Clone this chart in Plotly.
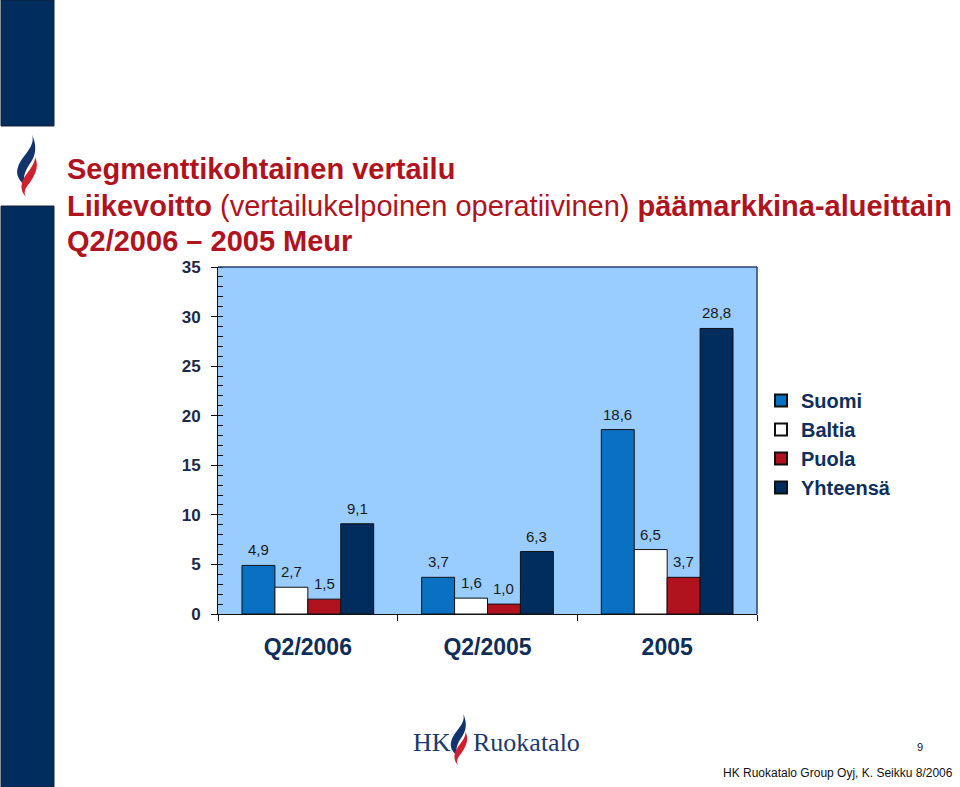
import plotly.graph_objects as go

categories = ["Q2/2006", "Q2/2005", "2005"]
suomi = [4.9, 3.7, 18.6]
baltia = [2.7, 1.6, 6.5]
puola = [1.5, 1.0, 3.7]
yhteensa = [9.1, 6.3, 28.8]
series_names = ["Suomi", "Baltia", "Puola", "Yhteensä"]
y_ticks = [0, 5, 10, 15, 20, 25, 30, 35]

W, H = 960, 787
L, R, T, B = 218, 757, 267, 614
BARGAP = 0.267


def px(x):
    return (x - L) / (R - L)


def py(y):
    return (B - y) / (B - T)


colors = ["#0A70C2", "#FFFFFF", "#B0131E", "#002D5E"]
values = [suomi, baltia, puola, yhteensa]

fig = go.Figure()
for name, vals, col in zip(series_names, values, colors):
    fig.add_trace(go.Bar(
        x=categories, y=vals, name=name,
        marker=dict(color=col, line=dict(color="#111111", width=1)),
    ))

annotations = []
# value labels above bars
cat_w = (R - L) / len(categories)
bar_w = cat_w * (1 - BARGAP) / len(values)
for i, vals in enumerate(values):
    off = (i - (len(values) - 1) / 2) * bar_w
    for ci, v in enumerate(vals):
        annotations.append(dict(
            x=ci, y=v, xref="x", yref="y", text=f"{v:.1f}".replace(".", ","),
            showarrow=False, xanchor="center", yanchor="bottom", xshift=off, yshift=5,
            font=dict(family="Arial, Liberation Sans", size=15, color="#1a1a1a")))

shapes = []
# left navy strips
shapes.append(dict(type="rect", xref="paper", yref="paper",
                   x0=px(1), x1=px(54), y0=py(0), y1=py(126),
                   fillcolor="#002D5E", line=dict(color="#1a2030", width=1), layer="above"))
shapes.append(dict(type="rect", xref="paper", yref="paper",
                   x0=px(1), x1=px(54), y0=py(206), y1=py(787),
                   fillcolor="#002D5E", line=dict(color="#1a2030", width=1), layer="above"))
# top and right border
shapes.append(dict(type="line", xref="paper", yref="paper", x0=0, x1=1, y0=1, y1=1,
                   line=dict(color="#2B3F7A", width=1.5)))
shapes.append(dict(type="line", xref="paper", yref="paper", x0=1, x1=1, y0=0, y1=1,
                   line=dict(color="#2B3F7A", width=1.5)))


def flame_paths(ox, oy, s):
    blue = [("M", 17, 1), ("C", 21, 13, 7, 21, 3, 33), ("C", 0, 41, 5, 48, 10, 51),
            ("C", 7, 43, 11, 35, 16, 28), ("C", 21, 21, 22, 11, 17, 1)]
    red = [("M", 20, 23), ("C", 25, 33, 19, 43, 13, 51), ("C", 9, 56, 9, 60, 11, 63),
           ("C", 6, 58, 5, 51, 9, 44), ("C", 13, 37, 20, 31, 20, 23)]
    out = []
    for pts, col in ((blue, "#12336B"), (red, "#D0202E")):
        d = ""
        for seg in pts:
            cmd = seg[0]
            nums = seg[1:]
            coords = []
            for i in range(0, len(nums), 2):
                coords.append(f"{px(ox + nums[i] * s):.5f},{py(oy + nums[i + 1] * s):.5f}")
            d += cmd + " " + " ".join(coords) + " "
        d += "Z"
        out.append(dict(type="path", xref="paper", yref="paper", path=d,
                        fillcolor=col, line=dict(width=0), layer="above"))
    return out


shapes += flame_paths(15, 134, 1.0)
shapes += flame_paths(449, 713, 0.83)

red = "#B0131E"
tfont = dict(family="Arial, Liberation Sans", size=29, color=red)
titles = [
    dict(text="<b>Segmenttikohtainen vertailu</b>", x=px(65), y=py(169)),
    dict(text="<b>Liikevoitto</b> (vertailukelpoinen operatiivinen) <b>päämarkkina-alueittain</b>",
         x=px(65), y=py(206)),
    dict(text="<b>Q2/2006 – 2005 Meur</b>", x=px(65), y=py(241)),
]
for a in titles:
    a.update(xref="paper", yref="paper", xanchor="left", yanchor="middle",
             showarrow=False, font=tfont)
annotations += titles

others = [
    dict(text="HK", x=px(411), y=py(742), xanchor="left",
         font=dict(family="Liberation Serif, Times New Roman", size=26, color="#1B3A6E")),
    dict(text="Ruokatalo", x=px(471), y=py(742), xanchor="left",
         font=dict(family="Liberation Serif, Times New Roman", size=26, color="#1B3A6E")),
    dict(text="9", x=px(920), y=py(747), xanchor="center",
         font=dict(family="Arial, Liberation Sans", size=11, color="#111111")),
    dict(text="HK Ruokatalo Group Oyj, K. Seikku 8/2006", x=px(955), y=py(773), xanchor="right",
         font=dict(family="Arial, Liberation Sans", size=12, color="#111111")),
]
for a in others:
    a.update(xref="paper", yref="paper", yanchor="middle", showarrow=False)
annotations += others

fig.update_layout(
    width=W, height=H,
    margin=dict(l=L, r=W - R, t=T, b=H - B, pad=0),
    paper_bgcolor="white", plot_bgcolor="#99CCFF",
    barmode="group", bargap=BARGAP, bargroupgap=0,
    showlegend=True,
    legend=dict(x=px(761), y=py(381), xanchor="left", yanchor="top",
                font=dict(family="Arial, Liberation Sans", size=20, color="#0E2F5E", weight="bold"),
                bgcolor="rgba(0,0,0,0)", itemsizing="constant"),
    shapes=shapes, annotations=annotations,
    xaxis=dict(type="category", categoryorder="array", categoryarray=categories,
               showgrid=False, showline=True, linecolor="#111111", linewidth=1,
               ticks="outside", ticklen=6, tickcolor="#111111", tickson="boundaries",
               tickfont=dict(family="Arial, Liberation Sans", size=23, color="#0F2D5A", weight="bold"),
               ticklabelstandoff=12, tickangle=0),
    yaxis=dict(range=[0, 35], tickvals=y_ticks, showgrid=False, zeroline=False,
               showline=True, linecolor="#111111", linewidth=1,
               ticks="outside", ticklen=6, tickcolor="#111111",
               minor=dict(dtick=1, ticks="inside", ticklen=5, tickcolor="#111111", showgrid=False),
               tickfont=dict(family="Arial, Liberation Sans", size=17, color="#1B2A48", weight="bold"),
               ticklabelstandoff=7),
)

fig.write_html("out.html")
